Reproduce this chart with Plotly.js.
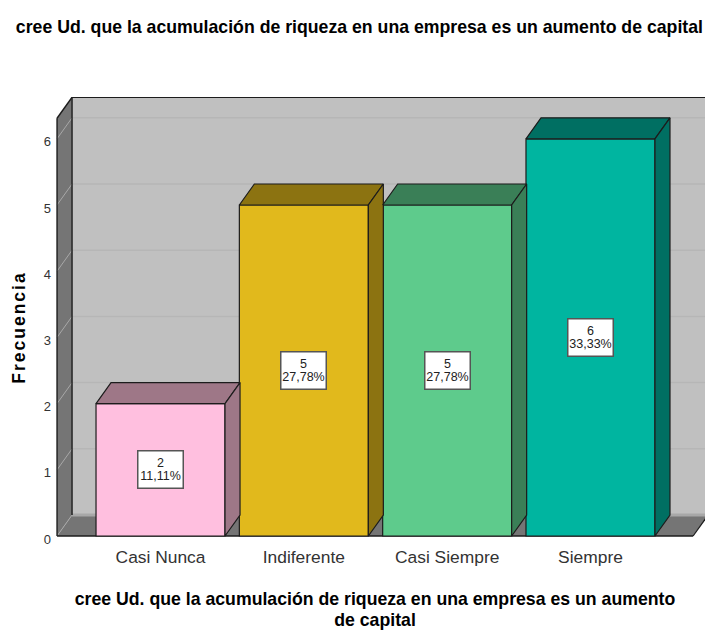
<!DOCTYPE html>
<html><head><meta charset="utf-8">
<script src="https://cdn.plot.ly/plotly-3.0.1.min.js"></script>
<style>html,body{margin:0;padding:0;background:#fff;overflow:hidden}</style>
</head><body><div id="chart" style="width:705px;height:630px"></div>
<script>
const categories = ["Casi Nunca","Indiferente","Casi Siempre","Siempre"];
const counts = [2,5,5,6];
const percents = ["11,11%","27,78%","27,78%","33,33%"];
const frontColors = ["#FFBFDF","#E1B91C","#5ECB8C","#00B5A0"];
const topColors = ["#9E7787","#8C7311","#3A7F57","#006F62"];
const sideColors = ["#9E7787","#8C7311","#3A7F57","#006F62"];
const yTicks = [0,1,2,3,4,5,6];
const titleText = "cree Ud. que la acumulación de riqueza en una empresa es un aumento de capital";
const xTitleLines = ["cree Ud. que la acumulación de riqueza en una empresa es un aumento","de capital"];
const yTitle = "Frecuencia";

// projection constants, in axis units
const DX = 0.1047, DY = 0.317, BW = 0.9;
const XMIN = -0.806, XMAX = 3.799, YMIN = -0.332, YMAX = 6.631, AXL = -0.722, FLOOR_R = 3.716, YFRONT = 6.31;
const EDGE = "#1c1c1c";
const xs = categories.map((_,i)=>i);

function poly(px,py,fill,lw){
  return {type:"scatter",mode:"lines",x:px.concat(px[0]),y:py.concat(py[0]),fill:"toself",fillcolor:fill,
    line:{color:EDGE,width:lw===undefined?1.2:lw},hoverinfo:"skip",showlegend:false,cliponaxis:false};
}
const traces = [{
  type:"bar",x:xs,y:counts,width:BW,marker:{color:frontColors,line:{color:EDGE,width:1.2}},
  hoverinfo:"skip",showlegend:false
}];
counts.forEach((v,i)=>{
  const l=i-BW/2,r=i+BW/2;
  traces.push(poly([l,r,r+DX,l+DX],[v,v,v+DY,v+DY],topColors[i]));
  traces.push(poly([r,r,r+DX,r+DX],[0,v,v+DY,DY],sideColors[i]));
});

function shapePath(px,py,fill,line){
  const d="M"+px.map((x,i)=>x+","+py[i]).join("L")+"Z";
  return {type:"path",path:d,fillcolor:fill,line:line,layer:"below",xref:"x",yref:"y"};
}
function seg(x0,y0,x1,y1,color,w){
  return {type:"line",x0,y0,x1,y1,xref:"x",yref:"y",layer:"below",line:{color,width:w}};
}
const shapes=[
  shapePath([AXL+DX,XMAX+1,XMAX+1,AXL+DX],[DY,DY,YFRONT+DY,YFRONT+DY],"#C0C0C0",{width:0}),
  shapePath([AXL,AXL+DX,AXL+DX,AXL],[0,DY,YFRONT+DY,YFRONT],"#757575",{width:0}),
  shapePath([AXL,FLOOR_R,FLOOR_R+DX,AXL+DX],[0,0,DY,DY],"#757575",{width:0})
];
yTicks.forEach(v=>{
  shapes.push(seg(AXL+DX,v+DY,XMAX+1,v+DY,v===0?"#A8A8A8":"#B6B6B6",v===0?3:1.5));
  shapes.push(seg(AXL,v,AXL+DX,v+DY,"#A8A8A8",1));
});
shapes.push(seg(AXL,0,AXL,YFRONT,EDGE,1.4));
shapes.push(seg(AXL,YFRONT,AXL+DX,YFRONT+DY,EDGE,1.4));
shapes.push(seg(AXL+DX,DY,AXL+DX,YFRONT+DY,EDGE,1.4));
shapes.push(seg(AXL+DX,YFRONT+DY,XMAX+1,YFRONT+DY,EDGE,1.4));
shapes.push(seg(AXL,0,FLOOR_R,0,EDGE,1.6));
shapes.push(seg(FLOOR_R,0,FLOOR_R+DX,DY,EDGE,1.2));

const sized=(t,px,extra)=>'<span style="font-size:'+px+'px'+(extra||'')+'">'+t+'</span>';
const annotations=counts.map((v,i)=>({
  x:i,y:v/2,xref:"x",yref:"y",text:sized(v,12.5)+"<br>"+sized(percents[i],12.5),showarrow:false,
  font:{family:"Liberation Sans",size:10,color:"#222"},
  bgcolor:"#fff",bordercolor:"#555",borderwidth:1.5,width:44,height:36,borderpad:0,align:"center",valign:"middle"
}));

const layout={
  width:705,height:630,autosize:false,paper_bgcolor:"#fff",plot_bgcolor:"#fff",
  margin:{l:45,r:0,t:97,b:72,pad:0},showlegend:false,
  title:{text:titleText,x:0.0225,xanchor:"left",y:0.957,yanchor:"middle",
    font:{family:"Liberation Sans",size:17.7,color:"#000",weight:"bold"}},
  xaxis:{range:[XMIN,XMAX],anchor:"free",position:22/461,tickmode:"array",tickvals:xs,ticktext:categories,showgrid:false,zeroline:false,showline:false,ticks:"",
    ticklabelstandoff:9,
    tickfont:{family:"Liberation Sans",size:17.4,color:"#333"},
    title:{text:xTitleLines.map(t=>sized(t,17.7)).join("<br>"),standoff:30,font:{family:"Liberation Sans",size:16,color:"#000",weight:"bold"}}},
  yaxis:{range:[YMIN,YMAX],anchor:"free",position:(57-45)/660,tickmode:"array",tickvals:yTicks,showgrid:false,zeroline:false,showline:false,ticks:"",
    ticklabelstandoff:6,ticklabelshift:3,
    tickfont:{family:"Liberation Sans",size:13,color:"#333"},
    title:{text:sized(yTitle,17.5,";letter-spacing:2px"),standoff:12,font:{family:"Liberation Sans",size:17.5,color:"#000",weight:"bold"}}},
  shapes,annotations
};
Plotly.newPlot("chart",traces,layout,{displayModeBar:false,staticPlot:true});
</script></body></html>
